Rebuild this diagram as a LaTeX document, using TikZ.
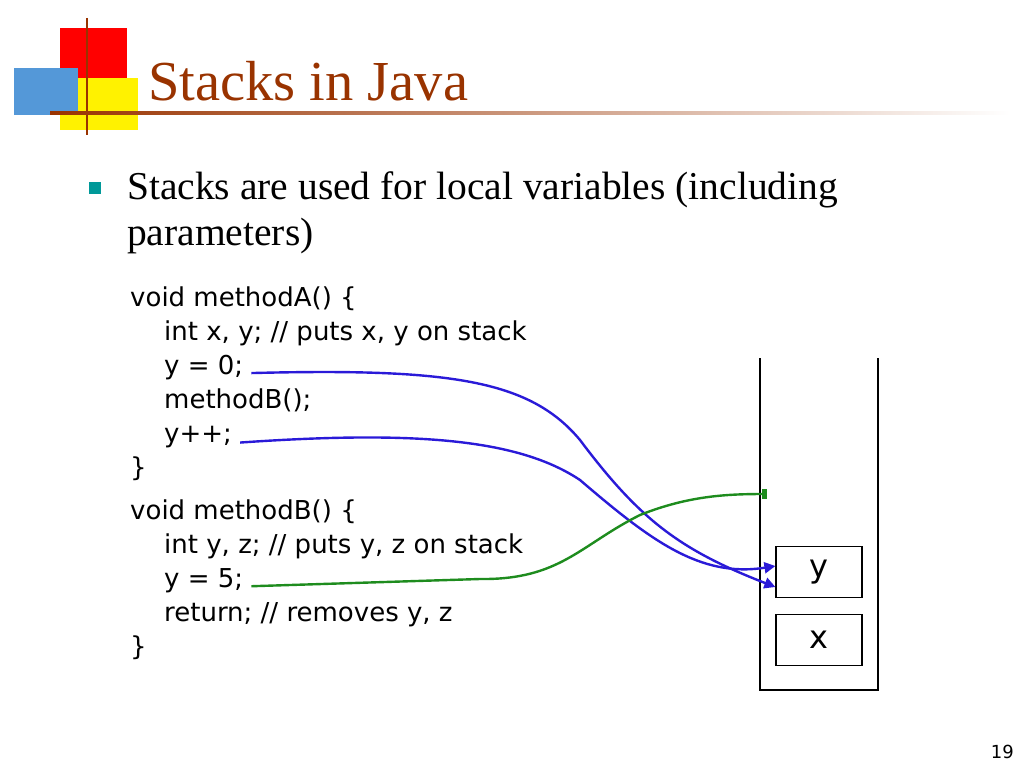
\documentclass[tikz,border=0pt]{standalone}
\usepackage{fontspec}
\setmainfont{Liberation Serif}
\newfontfamily\codefont{DejaVu Sans}
\usetikzlibrary{arrows.meta}
\definecolor{titlered}{HTML}{993300}
\definecolor{arrblue}{HTML}{2A1AD8}
\definecolor{arrgreen}{HTML}{1E8C1E}
\begin{document}
\begin{tikzpicture}[x=1pt,y=-1pt,
  code/.style={anchor=base west,inner sep=0,font=\codefont\fontsize{26}{26}\selectfont},
  stk/.style={draw,line width=1.2pt,minimum width=86pt,minimum height=51pt,font=\codefont\fontsize{32}{32}\selectfont},
  barr/.style={arrblue,line width=2.4pt,-{Triangle[length=11pt,width=11pt]}}]
\useasboundingbox (0,0) rectangle (1024,768);
% logo
\fill[red] (60,28) rectangle (127,78);
\fill[yellow] (60,78) rectangle (138,130);
\fill[cyan!60!blue!70] (14,68) rectangle (78,115);
\draw[titlered,line width=2pt] (87,18) -- (87,135);
\shade[left color=titlered,right color=white] (50,111) rectangle (1010,114);
\node[anchor=base west,inner sep=0,text=titlered,font=\fontsize{56.5}{56.5}\selectfont] (title) at (148,100) {Stacks in Java};
\fill[teal!80!cyan] (89,182) rectangle (101,194) coordinate (bul);
\node[anchor=base west,inner sep=0,font=\fontsize{39.5}{39.5}\selectfont] (b1) at (127,199) {Stacks are used for local variables (including};
\node[anchor=base west,inner sep=0,font=\fontsize{39.5}{39.5}\selectfont] (b2) at (127,245) {parameters)};
% code
\node[code] (a1) at (130,306) {void methodA() \{};
\node[code] (a2) at (164,340) {int x, y; // puts x, y on stack};
\node[code] (a3) at (164,374) {y = 0;};
\node[code] (a4) at (164,408) {methodB();};
\node[code] (a5) at (164,442) {y++;};
\node[code] (a6) at (130,476) {\}};
\node[code] (c1) at (130,519) {void methodB() \{};
\node[code] (c2) at (164,553) {int y, z; // puts y, z on stack};
\node[code] (c3) at (164,587) {y = 5;};
\node[code] (c4) at (164,621) {return; // removes y, z};
\node[code] (c5) at (130,655) {\}};
% stack
\draw[line width=2.5pt] (760,358) -- (760,690) -- (878,690) -- (878,358);
\node[stk] (y) at (819,572) {y};
\node[stk] (x) at (819,640) {x};
\coordinate (gend) at (766,494);
% arrows
\draw[barr] ([xshift=8pt,yshift=-6pt]a3.east) .. controls (450,368) and (530,380) .. (580,440) .. controls (640,520) and (680,550) .. ([yshift=-15pt]y.west);
\draw[barr] ([xshift=8pt,yshift=-6pt]a5.east) .. controls (420,430) and (520,440) .. (580,480) .. controls (650,540) and (700,578) .. ([yshift=6pt]y.west);
\draw[arrgreen,line width=2.4pt] ([xshift=8pt,yshift=-6pt]c3.east) -- (480,579) .. controls (560,580) and (580,545) .. (640,515) .. controls (690,495) and (730,494) .. (gend);
\fill[arrgreen] (762,489) rectangle (767,499);
\node[anchor=base east,inner sep=0,font=\codefont\fontsize{18}{18}\selectfont] (pg) at (1014,758) {19};
\end{tikzpicture}
\end{document}
